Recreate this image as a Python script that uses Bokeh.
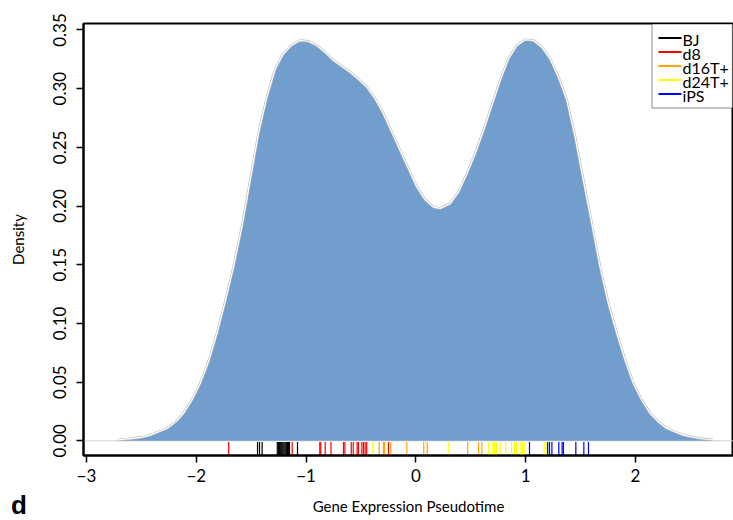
from bokeh.plotting import figure
from bokeh.layouts import column
from bokeh.models import (Range1d, FixedTicker, PrintfTickFormatter, Label, BoxAnnotation, Div)
from bokeh.embed import file_html
from bokeh.resources import INLINE

# ---- data ----
dens_x = [-2.72, -2.6, -2.5, -2.420, -2.268, -2.177, -2.117, -2.040, -1.965, -1.889, -1.812,
          -1.737, -1.661, -1.585, -1.509, -1.434, -1.357, -1.281, -1.206, -1.129, -1.054,
          -0.978, -0.902, -0.826, -0.750, -0.674, -0.598, -0.522, -0.446, -0.371, -0.295,
          -0.219, -0.143, -0.067, 0.009, 0.085, 0.160, 0.221, 0.312, 0.388, 0.464, 0.540,
          0.616, 0.692, 0.768, 0.843, 0.920, 0.995, 1.071, 1.148, 1.223, 1.299, 1.375,
          1.451, 1.526, 1.603, 1.678, 1.754, 1.831, 1.906, 1.982, 2.058, 2.134, 2.209,
          2.286, 2.437, 2.589, 2.70]
dens_y = [0.0008, 0.0018, 0.0030, 0.0049, 0.0105, 0.0170, 0.0233, 0.0346, 0.0488, 0.0672, 0.0914,
          0.1183, 0.1481, 0.1821, 0.2219, 0.2616, 0.2928, 0.3169, 0.3297, 0.3373, 0.3410,
          0.3404, 0.3368, 0.3310, 0.3240, 0.3190, 0.3140, 0.3080, 0.3013, 0.2914, 0.2786,
          0.2630, 0.2474, 0.2318, 0.2162, 0.2054, 0.1991, 0.1980, 0.2020, 0.2119, 0.2275, 0.2446,
          0.2644, 0.2857, 0.3070, 0.3254, 0.3368, 0.3417, 0.3410, 0.3353, 0.3254, 0.3098, 0.2904,
          0.2587, 0.2219, 0.1850, 0.1481, 0.1169, 0.0914, 0.0687, 0.0488, 0.0346, 0.0233, 0.0162,
          0.0105, 0.0049, 0.0020, 0.0009]

groups = ["BJ", "d8", "d16T+", "d24T+", "iPS"]
group_colors = ["#000000", "#FF0000", "#FFA500", "#FFFF00", "#0000FF"]

bj = [-1.442, -1.424, -1.400, -1.262, -1.252, -1.243, -1.235, -1.226, -1.218, -1.210,
      -1.200, -1.190, -1.180, -1.170, -1.160, -1.151, -1.078]
d8 = [-1.705, -1.126, -0.875, -0.866, -0.826, -0.773, -0.659, -0.646, -0.588, -0.570,
      -0.535, -0.523, -0.492, -0.477, -0.462, -0.448, -0.249]
d16 = [-0.334, -0.295, -0.286, -0.228, -0.082, 0.072, 0.104, 0.472, 0.572, 0.601]
d24 = [-0.392, 0.300, 0.663, 0.701, 0.716, 0.733, 0.768, 0.818, 0.871, 0.898, 0.916,
       0.957, 0.972, 0.986, 1.168, 1.184]
ips = [1.035, 1.200, 1.217, 1.239, 1.302, 1.332, 1.344, 1.457, 1.530, 1.572]
group_values = [bj, d8, d16, d24, ips]

x_ticks = [-3, -2, -1, 0, 1, 2]
y_ticks = [0.0, 0.05, 0.10, 0.15, 0.20, 0.25, 0.30, 0.35]

FONT = "Lato"
X0, X1 = -3.027, 2.893
Y0, Y1 = -0.0125, 0.3555

p = figure(frame_width=650, frame_height=432, output_backend="svg", toolbar_location=None,
           x_range=Range1d(X0, X1), y_range=Range1d(Y0, Y1))
p.min_border_left = 83
p.min_border_right = 0
p.min_border_top = 23
p.min_border_bottom = 65
p.background_fill_color = "white"
p.border_fill_color = "white"
p.outline_line_color = "black"
p.outline_line_width = 2
p.xgrid.visible = False
p.ygrid.visible = False

# baseline
p.line(x=[X0, X1], y=[0, 0], line_color="#cfcfcf", line_width=1)
# density fill and outline
p.varea(x=dens_x, y1=[0] * len(dens_x), y2=dens_y, fill_color="#729ECE")
p.line(x=dens_x, y=dens_y, line_color="#b8b8b8", line_width=2.4, line_join="round")
p.line(x=dens_x, y=dens_y, line_color="white", line_width=1.2, line_join="round")

# rug
rug_top = -0.0011
for name, col, vals in zip(groups, group_colors, group_values):
    p.segment(x0=vals, y0=[Y0] * len(vals), x1=vals, y1=[rug_top] * len(vals),
              line_color=col, line_width=1.2)

# legend (box, keys and labels in canvas pixels)
p.add_layout(BoxAnnotation(left=651.5, right=732, top=23.5, bottom=107.5,
                           left_units="canvas", right_units="canvas",
                           top_units="canvas", bottom_units="canvas",
                           fill_color="white", fill_alpha=1.0,
                           line_color="black", line_width=1.5))
for i, (name, col) in enumerate(zip(groups, group_colors)):
    yy = 37.5 + 14 * i
    p.add_layout(BoxAnnotation(left=658, right=681, top=yy - 1, bottom=yy + 1,
                               left_units="canvas", right_units="canvas",
                               top_units="canvas", bottom_units="canvas",
                               fill_color=col, fill_alpha=1.0, line_color=None))
    p.add_layout(Label(x=682, y=yy + 1, x_units="canvas", y_units="canvas", text=name,
                       text_baseline="middle", text_align="left",
                       text_font=FONT, text_font_size="16px", text_color="black"))

# axes
p.xaxis.ticker = FixedTicker(ticks=x_ticks)
p.xaxis.major_label_overrides = {t: ("\u2212" + str(-t) if t < 0 else str(t)) for t in x_ticks}
p.yaxis.ticker = FixedTicker(ticks=y_ticks)
p.yaxis.formatter = PrintfTickFormatter(format="%.2f")
p.yaxis.major_label_orientation = "vertical"
for ax in (p.xaxis, p.yaxis):
    ax.minor_tick_line_color = None
    ax.major_tick_in = 0
    ax.major_tick_out = 7
    ax.major_tick_line_width = 1.5
    ax.axis_line_width = 2
    ax.axis_line_color = "black"
    ax.major_label_text_font = FONT
    ax.major_label_text_font_size = "17px"
    ax.major_label_text_color = "black"
    ax.axis_label_text_font = FONT
    ax.axis_label_text_font_size = "15px"
    ax.axis_label_text_font_style = "normal"
    ax.axis_label_text_color = "black"
p.xaxis.axis_label = "Gene Expression Pseudotime"
p.yaxis.axis_label = "Density"
p.xaxis.major_label_standoff = 6
p.xaxis.axis_label_standoff = 12
p.yaxis.major_label_standoff = 10
p.yaxis.axis_label_standoff = 24

panel_d = Div(text="d", width=30, height=22, margin=(-26, 0, 0, 11),
              styles={"font-family": "Liberation Sans", "font-weight": "bold",
                      "font-size": "26px", "line-height": "22px", "color": "black"})

layout = column(p, panel_d, spacing=0)
open("out.html", "w").write(file_html(layout, INLINE))
